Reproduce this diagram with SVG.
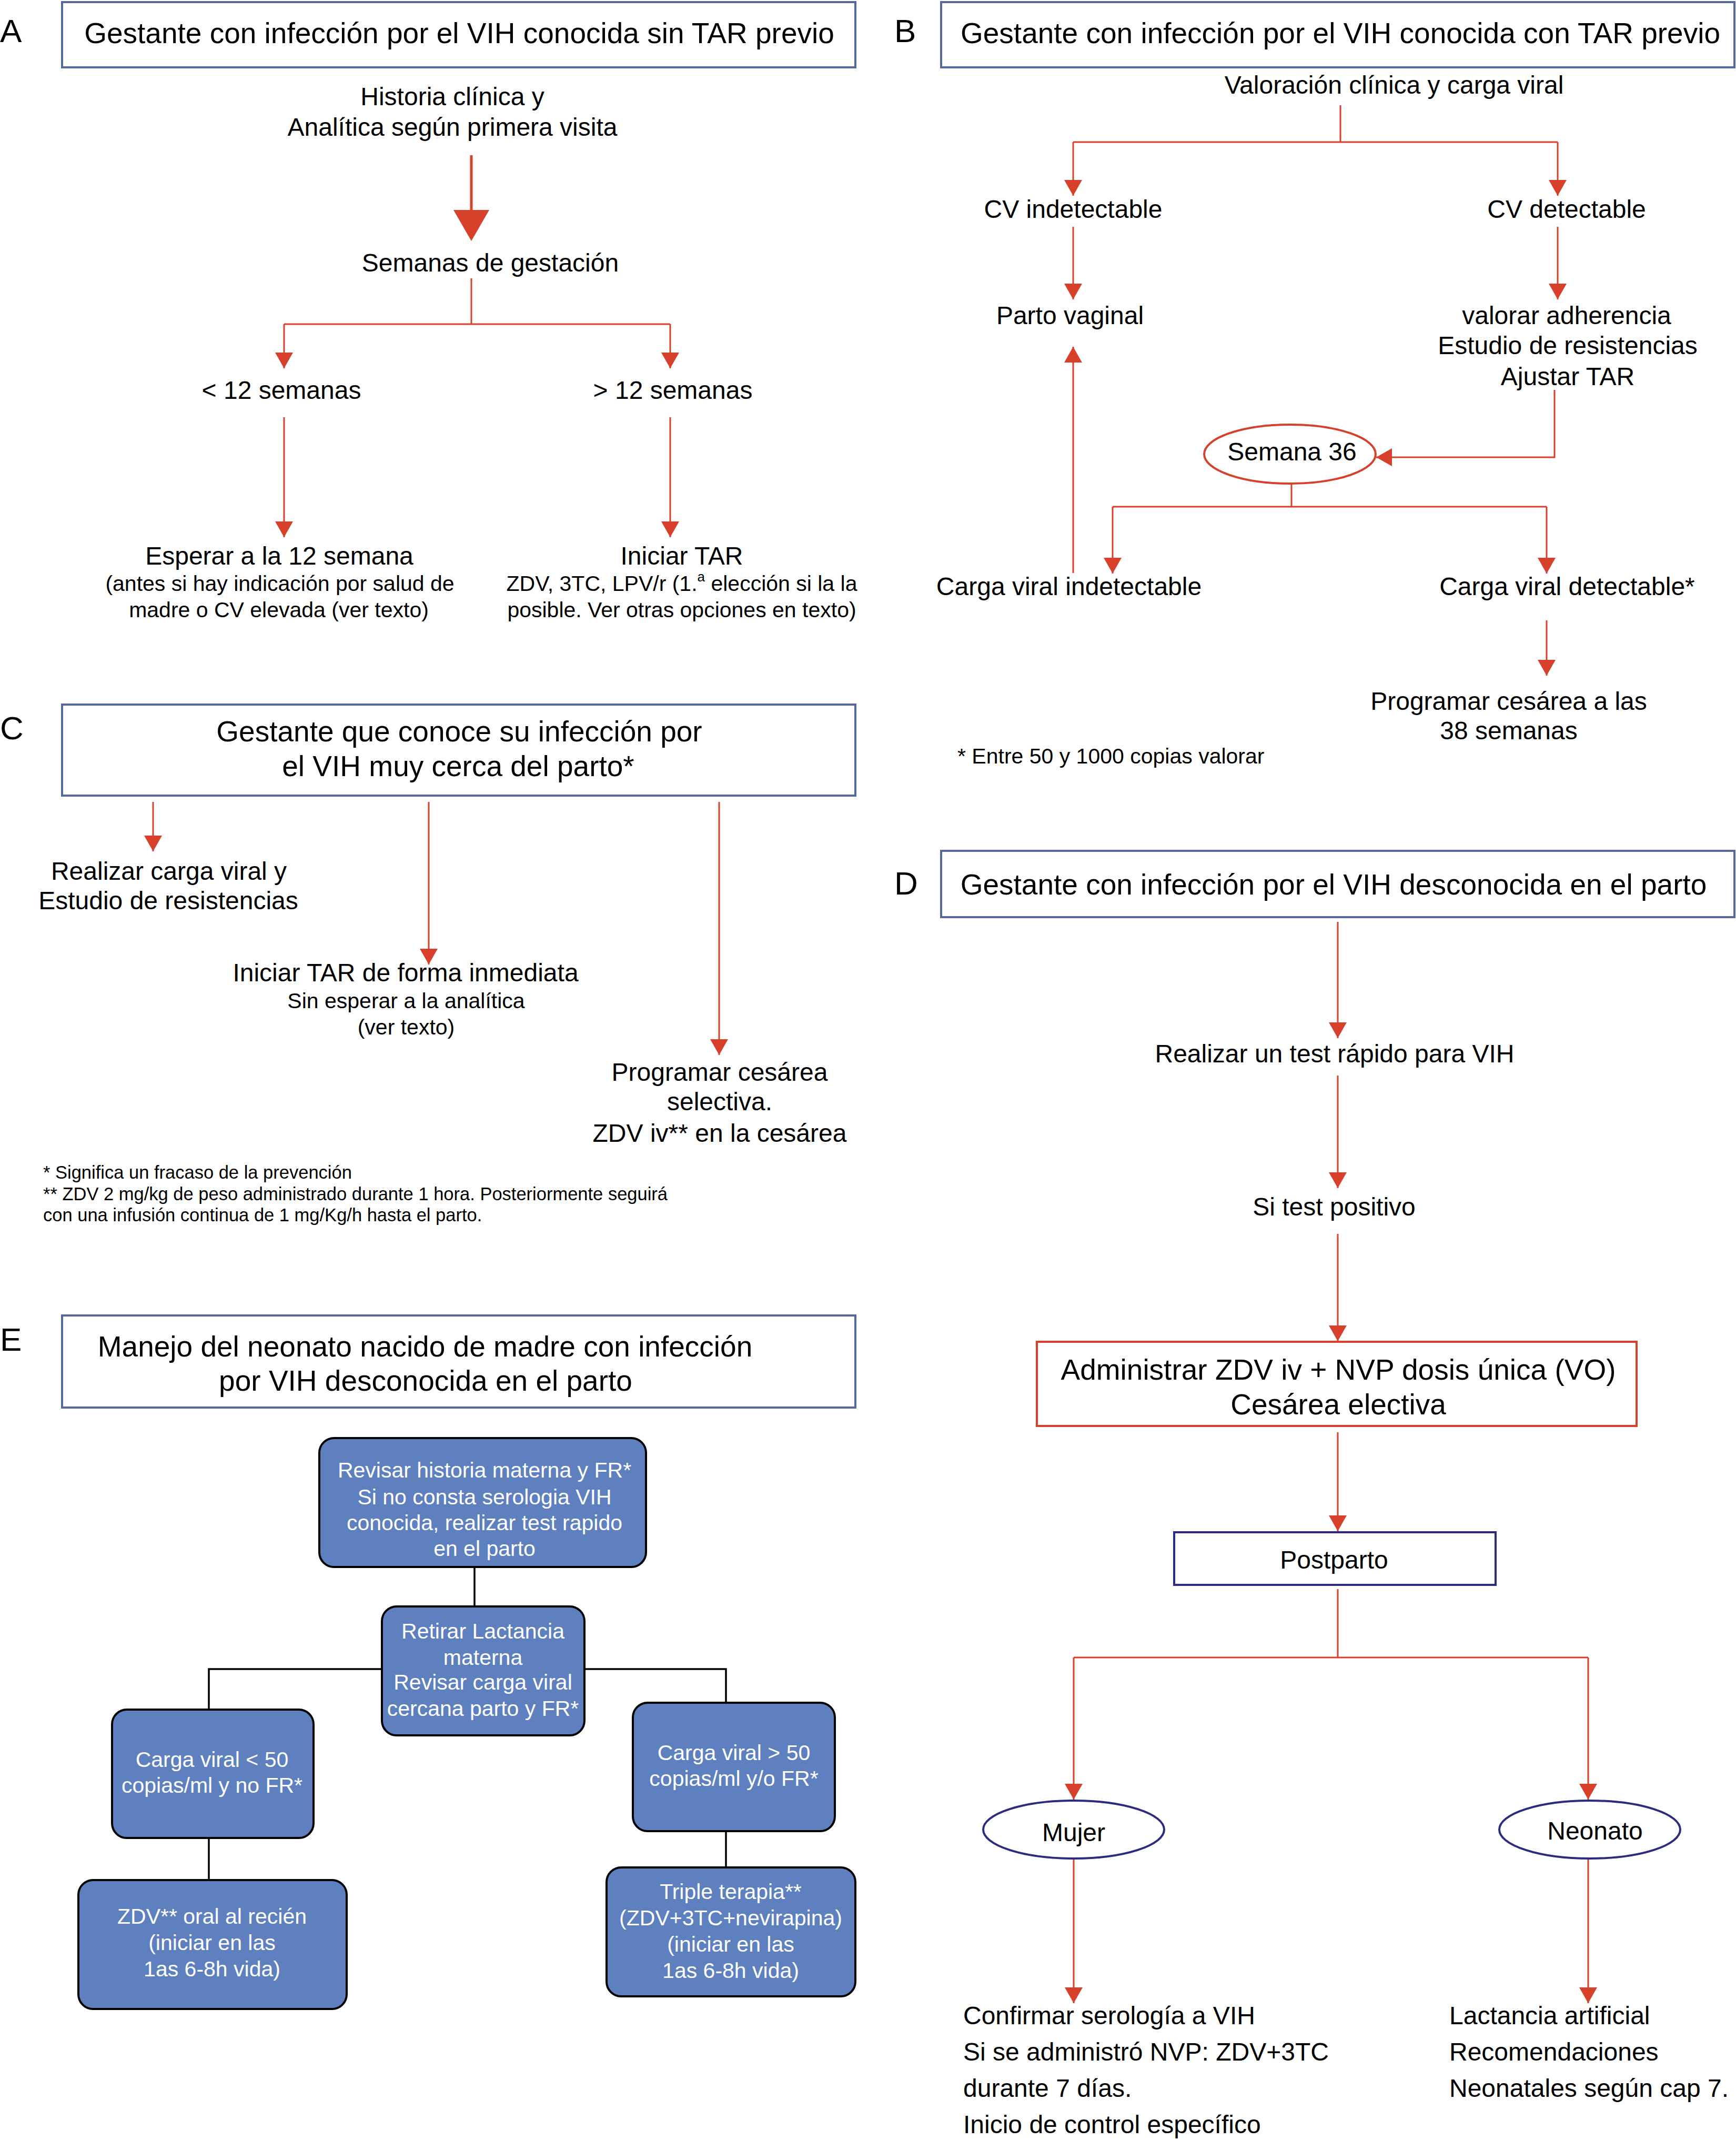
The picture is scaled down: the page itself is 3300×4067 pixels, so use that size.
<svg xmlns="http://www.w3.org/2000/svg" width="3300" height="4067" viewBox="0 0 3300 4067">
<style>
text{font-family:"Liberation Sans",Arial,Helvetica,sans-serif;fill:#000}
.lbl{font-size:62px}
.ttl{font-size:55px;text-anchor:middle}
.m{font-size:48px;text-anchor:middle}
.ml{font-size:48px}
.s{font-size:41px;text-anchor:middle}
.fn{font-size:34.5px}
.fn2{font-size:41px}
.bt{font-size:41px;text-anchor:middle;fill:#fff}
.hdr{fill:#fff;stroke:#52699a;stroke-width:4}
.rl{fill:none;stroke:#d7402b;stroke-width:3}
.bl{fill:none;stroke:#000;stroke-width:3.5}
.bb{fill:#5e80bf;stroke:#000;stroke-width:4}
</style>
<defs>
<marker id="ah" markerUnits="userSpaceOnUse" markerWidth="30" markerHeight="34" refX="30" refY="17" orient="auto">
<path d="M0,0 L30,17 L0,34 Z" fill="#d7402b"/>
</marker>
</defs>
<rect width="3300" height="4067" fill="#fff"/>

<!-- Panel labels -->
<text class="lbl" x="0" y="80">A</text>
<text class="lbl" x="1700" y="80">B</text>
<text class="lbl" x="0" y="1405">C</text>
<text class="lbl" x="1700" y="1700">D</text>
<text class="lbl" x="0" y="2567">E</text>

<g id="connectors">
<!-- A -->
<line x1="896" y1="295" x2="896" y2="402" stroke="#d7402b" stroke-width="5"/>
<polygon points="862,399 930,399 896,458" fill="#d7402b"/>
<polyline class="rl" points="896,529 896,616"/>
<polyline class="rl" points="540,616 1274,616"/>
<line class="rl" x1="540" y1="616" x2="540" y2="700" marker-end="url(#ah)"/>
<line class="rl" x1="1274" y1="616" x2="1274" y2="700" marker-end="url(#ah)"/>
<line class="rl" x1="540" y1="793" x2="540" y2="1021" marker-end="url(#ah)"/>
<line class="rl" x1="1274" y1="793" x2="1274" y2="1021" marker-end="url(#ah)"/>
<!-- B -->
<polyline class="rl" points="2548,200 2548,270"/>
<polyline class="rl" points="2040,270 2961,270"/>
<line class="rl" x1="2040" y1="270" x2="2040" y2="372" marker-end="url(#ah)"/>
<line class="rl" x1="2961" y1="270" x2="2961" y2="372" marker-end="url(#ah)"/>
<line class="rl" x1="2040" y1="431" x2="2040" y2="569" marker-end="url(#ah)"/>
<line class="rl" x1="2961" y1="431" x2="2961" y2="569" marker-end="url(#ah)"/>
<line class="rl" x1="2040" y1="1089" x2="2040" y2="659" marker-end="url(#ah)"/>
<polyline class="rl" points="2955,741 2955,869 2616,869" marker-end="url(#ah)"/>
<polyline class="rl" points="2455,919 2455,963"/>
<polyline class="rl" points="2115,963 2940,963"/>
<line class="rl" x1="2115" y1="963" x2="2115" y2="1090" marker-end="url(#ah)"/>
<line class="rl" x1="2940" y1="963" x2="2940" y2="1090" marker-end="url(#ah)"/>
<line class="rl" x1="2940" y1="1179" x2="2940" y2="1284" marker-end="url(#ah)"/>
<!-- C -->
<line class="rl" x1="291" y1="1524" x2="291" y2="1618" marker-end="url(#ah)"/>
<line class="rl" x1="815" y1="1524" x2="815" y2="1833" marker-end="url(#ah)"/>
<line class="rl" x1="1367" y1="1524" x2="1367" y2="2005" marker-end="url(#ah)"/>
<!-- D -->
<line class="rl" x1="2543" y1="1752" x2="2543" y2="1973" marker-end="url(#ah)"/>
<line class="rl" x1="2543" y1="2044" x2="2543" y2="2258" marker-end="url(#ah)"/>
<line class="rl" x1="2543" y1="2345" x2="2543" y2="2549" marker-end="url(#ah)"/>
<line class="rl" x1="2543" y1="2722" x2="2543" y2="2910" marker-end="url(#ah)"/>
<polyline class="rl" points="2543,3020 2543,3150"/>
<polyline class="rl" points="2041,3150 3019,3150"/>
<line class="rl" x1="2041" y1="3150" x2="2041" y2="3420" marker-end="url(#ah)"/>
<line class="rl" x1="3019" y1="3150" x2="3019" y2="3420" marker-end="url(#ah)"/>
<line class="rl" x1="2041" y1="3532" x2="2041" y2="3807" marker-end="url(#ah)"/>
<line class="rl" x1="3019" y1="3532" x2="3019" y2="3807" marker-end="url(#ah)"/>
<!-- E -->
<polyline class="bl" points="902,2978 902,3053"/>
<polyline class="bl" points="726,3172 397,3172 397,3249"/>
<polyline class="bl" points="1111,3172 1380,3172 1380,3236"/>
<polyline class="bl" points="397,3493 397,3573"/>
<polyline class="bl" points="1380,3480 1380,3549"/>
</g>

<!-- Panel A -->
<g id="a-title"><rect class="hdr" x="118" y="4" width="1508" height="124"/>
<text class="ttl" x="873" y="82">Gestante con infección por el VIH conocida sin TAR previo</text></g>
<g id="a-historia"><text class="m" x="860" y="200">Historia clínica y</text>
<text class="m" x="860" y="258">Analítica según primera visita</text></g>
<g id="a-semanas"><text class="m" x="932" y="516">Semanas de gestación</text></g>
<g id="a-menos12"><text class="m" x="535" y="758">&lt; 12 semanas</text></g>
<g id="a-mas12"><text class="m" x="1279" y="758">&gt; 12 semanas</text></g>
<g id="a-esperar"><text class="m" x="531" y="1073">Esperar a la 12 semana</text>
<text class="s" x="532" y="1123">(antes si hay indicación por salud de</text>
<text class="s" x="530" y="1173">madre o CV elevada (ver texto)</text></g>
<g id="a-iniciar"><text class="m" x="1296" y="1073">Iniciar TAR</text>
<text class="s" x="1296" y="1123">ZDV, 3TC, LPV/r (1.<tspan font-size="26" dy="-18">a</tspan><tspan dy="18"> elección si la la</tspan></text>
<text class="s" x="1296" y="1173">posible. Ver otras opciones en texto)</text></g>

<!-- Panel B -->
<g id="b-title"><rect class="hdr" x="1789" y="4" width="1508" height="124"/>
<text class="ttl" x="2548" y="82">Gestante con infección por el VIH conocida con TAR previo</text></g>
<g id="b-valoracion"><text class="m" x="2650" y="178">Valoración clínica y carga viral</text></g>
<g id="b-cvindet"><text class="m" x="2040" y="414">CV indetectable</text></g>
<g id="b-cvdet"><text class="m" x="2978" y="414">CV detectable</text></g>
<g id="b-parto"><text class="m" x="2034" y="616">Parto vaginal</text></g>
<g id="b-valorar"><text class="m" x="2978" y="616">valorar adherencia</text>
<text class="m" x="2980" y="673">Estudio de resistencias</text>
<text class="m" x="2980" y="732">Ajustar TAR</text></g>
<g id="b-semana36"><ellipse cx="2452" cy="863" rx="163" ry="56" fill="#fff" stroke="#d7402b" stroke-width="4"/>
<text class="m" x="2456" y="875">Semana 36</text></g>
<g id="b-cargaindet"><text class="m" x="2032" y="1131">Carga viral indetectable</text></g>
<g id="b-cargadet"><text class="m" x="2979" y="1131">Carga viral detectable*</text></g>
<g id="b-programar"><text class="m" x="2868" y="1349">Programar cesárea a las</text>
<text class="m" x="2868" y="1405">38 semanas</text></g>
<g id="b-nota"><text class="fn2" x="1820" y="1451">* Entre 50 y 1000 copias valorar</text></g>

<!-- Panel C -->
<g id="c-title"><rect class="hdr" x="118" y="1339" width="1508" height="173"/>
<text class="ttl" x="873" y="1409">Gestante que conoce su infección por</text>
<text class="ttl" x="871" y="1475">el VIH muy cerca del parto*</text></g>
<g id="c-realizar"><text class="m" x="321" y="1672">Realizar carga viral y</text>
<text class="m" x="320" y="1728">Estudio de resistencias</text></g>
<g id="c-iniciar"><text class="m" x="771" y="1865">Iniciar TAR de forma inmediata</text>
<text class="s" x="772" y="1916">Sin esperar a la analítica</text>
<text class="s" x="772" y="1966">(ver texto)</text></g>
<g id="c-programar"><text class="m" x="1368" y="2054">Programar cesárea</text>
<text class="m" x="1368" y="2110">selectiva.</text>
<text class="m" x="1368" y="2170">ZDV iv** en la cesárea</text></g>
<g id="c-notas"><text class="fn" x="82" y="2240">* Significa un fracaso de la prevención</text>
<text class="fn" x="82" y="2281">** ZDV 2 mg/kg de peso administrado durante 1 hora. Posteriormente seguirá</text>
<text class="fn" x="82" y="2321">con una infusión continua de 1 mg/Kg/h hasta el parto.</text></g>

<!-- Panel D -->
<g id="d-title"><rect class="hdr" x="1789" y="1617" width="1508" height="126"/>
<text class="ttl" x="2535" y="1700">Gestante con infección por el VIH desconocida en el parto</text></g>
<g id="d-test"><text class="m" x="2537" y="2019">Realizar un test rápido para VIH</text></g>
<g id="d-positivo"><text class="m" x="2536" y="2310">Si test positivo</text></g>
<g id="d-administrar"><rect x="1971" y="2550" width="1140" height="160" fill="#fff" stroke="#d7402b" stroke-width="4"/>
<text class="ttl" x="2544" y="2622">Administrar ZDV iv + NVP dosis única (VO)</text>
<text class="ttl" x="2544" y="2688">Cesárea electiva</text></g>
<g id="d-postparto"><rect x="2232" y="2912" width="611" height="100" fill="#fff" stroke="#2c2b7f" stroke-width="4"/>
<text class="m" x="2536" y="2981">Postparto</text></g>
<g id="d-mujer"><ellipse cx="2041" cy="3477" rx="172" ry="55" fill="#fff" stroke="#2c2b7f" stroke-width="4"/>
<text class="m" x="2041" y="3499">Mujer</text></g>
<g id="d-neonato"><ellipse cx="3022" cy="3477" rx="172" ry="55" fill="#fff" stroke="#2c2b7f" stroke-width="4"/>
<text class="m" x="3032" y="3496">Neonato</text></g>
<g id="d-mujer-txt"><text class="ml" x="1831" y="3847">Confirmar serología a VIH</text>
<text class="ml" x="1831" y="3916">Si se administró NVP: ZDV+3TC</text>
<text class="ml" x="1831" y="3985">durante 7 días.</text>
<text class="ml" x="1831" y="4054">Inicio de control específico</text></g>
<g id="d-neonato-txt"><text class="ml" x="2755" y="3847">Lactancia artificial</text>
<text class="ml" x="2755" y="3916">Recomendaciones</text>
<text class="ml" x="2755" y="3985">Neonatales según cap 7.</text></g>

<!-- Panel E -->
<g id="e-title"><rect class="hdr" x="118" y="2500" width="1508" height="175"/>
<text class="ttl" x="808" y="2578">Manejo del neonato nacido de madre con infección</text>
<text class="ttl" x="809" y="2643">por VIH desconocida en el parto</text></g>
<g id="e-revisar"><rect class="bb" x="607" y="2733" width="621" height="245" rx="28"/>
<text class="bt" x="921" y="2808">Revisar historia materna y FR*</text>
<text class="bt" x="921" y="2859">Si no consta serologia VIH</text>
<text class="bt" x="921" y="2908">conocida, realizar test rapido</text>
<text class="bt" x="921" y="2957">en el parto</text></g>
<g id="e-retirar"><rect class="bb" x="726" y="3053" width="385" height="245" rx="28"/>
<text class="bt" x="918" y="3114">Retirar Lactancia</text>
<text class="bt" x="918" y="3164">materna</text>
<text class="bt" x="918" y="3211">Revisar carga viral</text>
<text class="bt" x="918" y="3261">cercana parto y FR*</text></g>
<g id="e-cv-menor"><rect class="bb" x="213" y="3249" width="383" height="244" rx="28"/>
<text class="bt" x="403" y="3358">Carga viral &lt; 50</text>
<text class="bt" x="403" y="3407">copias/ml y no FR*</text></g>
<g id="e-cv-mayor"><rect class="bb" x="1203" y="3236" width="384" height="244" rx="28"/>
<text class="bt" x="1395" y="3345">Carga viral &gt; 50</text>
<text class="bt" x="1395" y="3394">copias/ml y/o FR*</text></g>
<g id="e-zdv"><rect class="bb" x="149" y="3573" width="510" height="245" rx="28"/>
<text class="bt" x="403" y="3656">ZDV** oral al recién</text>
<text class="bt" x="403" y="3706">(iniciar en las</text>
<text class="bt" x="403" y="3756">1as 6-8h vida)</text></g>
<g id="e-triple"><rect class="bb" x="1153" y="3549" width="473" height="245" rx="28"/>
<text class="bt" x="1389" y="3609">Triple terapia**</text>
<text class="bt" x="1389" y="3659">(ZDV+3TC+nevirapina)</text>
<text class="bt" x="1389" y="3709">(iniciar en las</text>
<text class="bt" x="1389" y="3759">1as 6-8h vida)</text></g>
</svg>
